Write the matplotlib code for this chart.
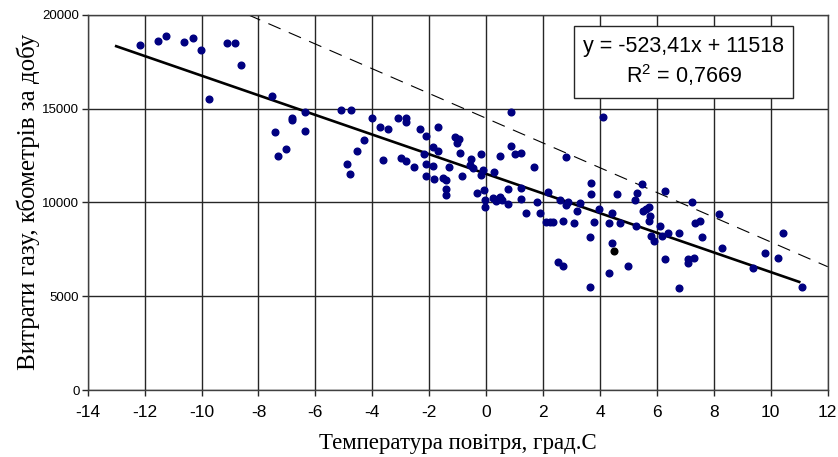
import matplotlib
matplotlib.use('Agg')
import matplotlib.pyplot as plt
from matplotlib.patches import Rectangle
import numpy as np

plt.rcParams['axes.unicode_minus'] = False

# temperature (grad C) and gas consumption (thousand m3 per day)
temp = [-12.16, -11.54, -11.24, -10.61, -10.31, -10.02, -9.12, -8.82, -8.61, -9.74,
        -7.51, -7.42, -7.32, -7.03, -6.82, -6.82, -6.35, -6.36, -5.09, -4.75,
        -4.89, -4.79, -4.54, -4.30, -4.01, -3.73, -3.44, -3.62, -3.11, -2.82,
        -2.82, -3.00, -2.82, -2.52, -2.32, -2.12, -1.68, -2.12, -2.12, -1.88,
        -1.69, -2.19, -1.84, -1.88, -1.51, -1.40, -1.41, -1.41, -1.31, -1.09,
        -0.95, -1.01, -0.91, -0.84, 0.87, 4.12, -0.19, -0.53, -0.57, -0.10,
        -0.19, 0.29, 0.49, 0.87, 1.01, 1.22, 1.69, 2.81, -0.33, -0.06,
        -0.03, -0.03, 0.25, 0.35, 0.49, 0.55, 0.78, 0.78, 1.22, 1.22,
        1.41, 1.80, 1.89, 2.18, 2.10, 2.23, 2.36, 2.71, 2.60, 2.81,
        2.89, 3.10, 3.18, 3.30, 3.64, 3.67, 3.68, 3.78, 3.98, 2.51,
        2.71, 3.64, 4.41, 4.32, 4.41, 4.32, 4.59, 4.70, 5.00, 5.23,
        5.29, 5.47, 5.50, 5.27, 6.28, 7.22, 8.18, 10.42, 5.62, 5.72,
        5.76, 5.72, 6.11, 5.80, 5.91, 6.19, 6.40, 6.79, 7.32, 7.51,
        7.58, 8.28, 6.28, 7.08, 7.08, 7.31, 6.79, 9.39, 9.80, 10.27,
        11.09, -0.45, 0.42]
gas = [18385, 18598, 18881, 18528, 18742, 18102, 18492, 18492, 17320, 15508,
       15668, 13749, 12487, 12860, 14478, 14390, 13820, 14830, 14920, 14920,
       12043, 11525, 12720, 13322, 14478, 14030, 13890, 12273, 14478, 14510,
       14298, 12347, 12203, 11900, 13890, 13520, 14030, 12060, 11388, 12933,
       12720, 12577, 11244, 11953, 11298, 11191, 10727, 10375, 11900, 13500,
       13393, 13180, 12646, 11388, 14830, 14565, 12577, 12310, 11990, 11724,
       11457, 11635, 12470, 13020, 12577, 12646, 11900, 12400, 10480, 10657,
       10125, 9770, 10215, 10090, 10300, 10125, 9912, 10727, 10750, 10162,
       9415, 10036, 9415, 10570, 8970, 8970, 8970, 9020, 10125, 9860,
       10036, 8880, 9555, 9980, 8150, 11010, 10430, 8970, 9630, 6840,
       6610, 5505, 9415, 8880, 7850, 6250, 10445, 8880, 6610, 10125,
       10515, 10980, 9555, 8740, 10605, 10000, 9380, 8367, 9630, 9770,
       9273, 9020, 8740, 8207, 7940, 8207, 8383, 8367, 8880, 9020,
       8170, 7567, 6965, 6965, 6750, 7018, 5420, 6520, 7318, 7018,
       5473, 11850, 10160]
black_pt = (4.49, 7425)

# linear trend reported by Excel
slope = -523.41
intercept = 11518
r2 = 0.7669
trend_x = np.array([-13, 11])

# upper dashed boundary line
bound_x = [-8.37, 12]
bound_y = [20000, 6570]

fig = plt.figure(figsize=(8.38, 4.57), dpi=100)
ax = fig.add_axes([0.1047, 0.1466, 0.8830, 0.8212])

ax.grid(True, color='0.15', lw=1.0)
ax.set_axisbelow(True)

ax.plot(bound_x, bound_y, color='black', lw=0.8, dashes=(12, 8))
ax.plot(trend_x, slope * trend_x + intercept, color='black', lw=1.9)
ax.plot(temp, gas, 'o', color='#000080', ms=4.8, mec='#000080')
ax.plot(*black_pt, 'o', color='black', ms=4.8)

ax.set_xlim(-14, 12)
ax.set_ylim(0, 20000)
ax.set_xticks(range(-14, 13, 2))
ax.set_yticks(range(0, 20001, 5000))

for s in ax.spines.values():
    s.set_color('0.25')
    s.set_linewidth(1.0)

ax.tick_params(axis='x', length=4, width=1, color='0.15', pad=7, labelsize=12.5)
ax.tick_params(axis='y', length=4, width=1, color='0.15', pad=2, labelsize=9.5)
for lbl in ax.get_xticklabels() + ax.get_yticklabels():
    lbl.set_family('Liberation Sans')

ax.set_xlabel('Температура повітря, град.С', family='Liberation Serif', fontsize=16.5, labelpad=9)
ax.set_ylabel('Витрати газу, кбометрів за добу', family='Liberation Serif', fontsize=18, labelpad=2)

# equation box
ax.add_patch(Rectangle((0.657, 0.779), 0.2965, 0.191, transform=ax.transAxes,
                       fc='white', ec='0.15', lw=1.0, zorder=5))
txt = 'y = %sx + %d\n$\\mathregular{R^2}$ = %s' % (('%.2f' % slope).replace('.', ','), intercept,
                                                ('%.4f' % r2).replace('.', ','))
ax.text(0.8054, 0.874, txt, transform=ax.transAxes, ha='center', va='center',
        family='Liberation Sans', fontsize=15.5, linespacing=1.2, zorder=6)

plt.savefig('out.png', dpi=100)
